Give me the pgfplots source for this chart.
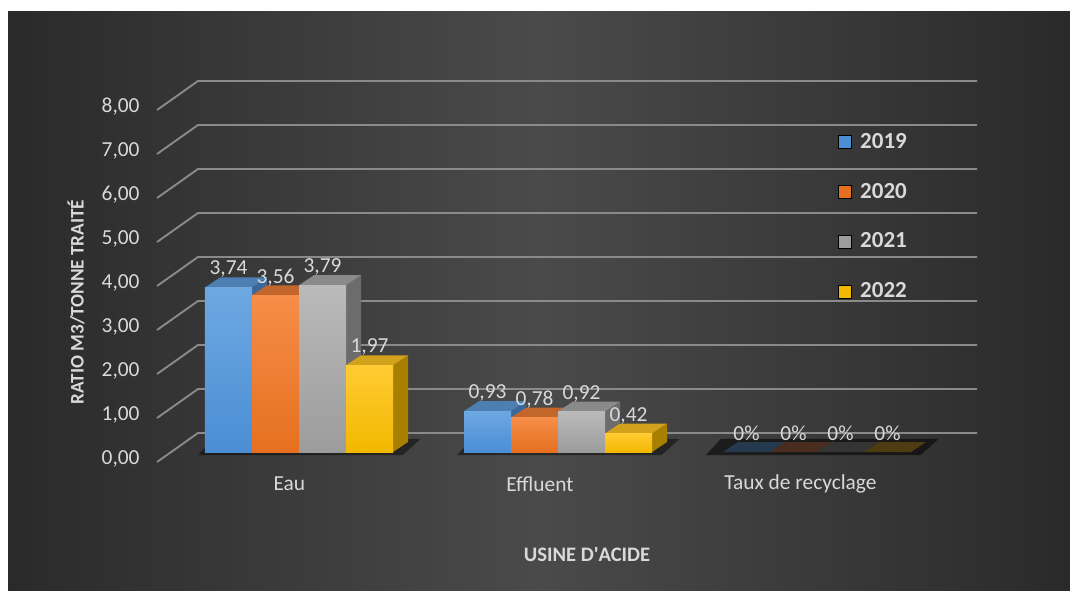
\documentclass[border=0pt]{standalone}
\usepackage{pgfplots}
\pgfplotsset{compat=1.18}
\usepackage{fontspec}
\setmainfont{Carlito}

\definecolor{bgedge}{HTML}{2A2A2A}
\definecolor{bgmid}{HTML}{4A4A4A}
\definecolor{gridc}{HTML}{8A8A8A}
\definecolor{lbl}{HTML}{D9D9D9}
% 2019 blue
\definecolor{bft}{HTML}{6EA8E2}\definecolor{bfb}{HTML}{4A8ED4}
\definecolor{btop}{HTML}{4D7FB3}\definecolor{bside}{HTML}{3A6898}
% 2020 orange
\definecolor{oft}{HTML}{F68D48}\definecolor{ofb}{HTML}{E6701F}
\definecolor{otop}{HTML}{C2662C}\definecolor{oside}{HTML}{A05222}
% 2021 gray
\definecolor{gft}{HTML}{BABABA}\definecolor{gfb}{HTML}{9C9C9C}
\definecolor{gtop}{HTML}{8A8A8A}\definecolor{gside}{HTML}{6C6C6C}
% 2022 yellow
\definecolor{yft}{HTML}{FFCB33}\definecolor{yfb}{HTML}{F2B800}
\definecolor{ytop}{HTML}{D3A21C}\definecolor{yside}{HTML}{A88000}
% zero slab
\definecolor{zb}{HTML}{25394F}\definecolor{zo}{HTML}{4B2D1F}
\definecolor{zg}{HTML}{343434}\definecolor{zy}{HTML}{4D3C12}

% 3D bar: #1 left x, #2 value, #3 front top col, #4 front bottom col, #5 top col, #6 side col
\newcommand\tdbar[6]{%
  \pgfmathsetmacro\xa{#1}\pgfmathsetmacro\xb{#1+0.18147}%
  \pgfmathsetmacro\xc{#1+0.05792}\pgfmathsetmacro\xd{#1+0.18147+0.05792}%
  \pgfmathsetmacro\ya{#2}\pgfmathsetmacro\yb{#2+0.2273}%
  \addplot[forget plot, draw=none, fill=#6] coordinates {(\xb,0) (\xd,0.2273) (\xd,\yb) (\xb,\ya)} -- cycle;
  \addplot[forget plot, draw=none, fill=#5] coordinates {(\xa,\ya) (\xb,\ya) (\xd,\yb) (\xc,\yb)} -- cycle;
  \addplot[forget plot, draw=none, top color=#3, bottom color=#4] coordinates {(\xa,0) (\xb,0) (\xb,\ya) (\xa,\ya)} -- cycle;
}
% flat (zero) bar: only the top face
\newcommand\tdflat[3]{%
  \pgfmathsetmacro\xa{#1}\pgfmathsetmacro\xb{#1+0.18147}%
  \pgfmathsetmacro\xc{#1+0.05792}\pgfmathsetmacro\xd{#1+0.18147+0.05792}%
  \pgfmathsetmacro\ya{#2}\pgfmathsetmacro\yb{#2+0.2273}%
  \addplot[forget plot, draw=none, fill=#3] coordinates {(\xa,\ya) (\xb,\ya) (\xd,\yb) (\xc,\yb)} -- cycle;
}

\begin{document}
\begin{tikzpicture}
\useasboundingbox (0,0) rectangle (535pt,295pt);
\fill[white] (0,0) rectangle (535pt,295pt);
\shade[left color=bgedge, right color=bgedge, middle color=bgmid] (4pt,0) rectangle (535pt,289pt);
\begin{axis}[
  at={(0,0)}, anchor=south west,
  scale only axis, width=535pt, height=295pt,
  xmin=-1.15444, xmax=2.97683, ymin=-3.13636, ymax=10.27273,
  hide axis, clip=false,
  legend style={at={(0.7776,0.7815)}, anchor=north west, draw=none, fill=none,
    font=\bfseries\fontsize{11.5}{12}\selectfont, text=lbl,
    row sep=15.85pt, column sep=4pt, nodes={inner sep=0pt}},
  legend image code/.code={\fill[#1] (0pt,-3.25pt) rectangle (6.5pt,3.25pt);},
  legend cell align=left,
]
% gridlines (back wall + oblique side)
\addplot[forget plot, gridc, line width=0.95pt] coordinates {(-0.548,-0.227) (-0.390,0.432) (2.618,0.432)};
\addplot[forget plot, gridc, line width=0.95pt] coordinates {(-0.548,0.773) (-0.390,1.432) (2.618,1.432)};
\addplot[forget plot, gridc, line width=0.95pt] coordinates {(-0.548,1.773) (-0.390,2.432) (2.618,2.432)};
\addplot[forget plot, gridc, line width=0.95pt] coordinates {(-0.548,2.773) (-0.390,3.432) (2.618,3.432)};
\addplot[forget plot, gridc, line width=0.95pt] coordinates {(-0.548,3.773) (-0.390,4.432) (2.618,4.432)};
\addplot[forget plot, gridc, line width=0.95pt] coordinates {(-0.548,4.773) (-0.390,5.432) (2.618,5.432)};
\addplot[forget plot, gridc, line width=0.95pt] coordinates {(-0.548,5.773) (-0.390,6.432) (2.618,6.432)};
\addplot[forget plot, gridc, line width=0.95pt] coordinates {(-0.548,6.773) (-0.390,7.432) (2.618,7.432)};
\addplot[forget plot, gridc, line width=0.95pt] coordinates {(-0.548,7.773) (-0.390,8.432) (2.618,8.432)};

% shadows on the floor
\addplot[forget plot, draw=none, fill=black, opacity=0.45] coordinates {(-0.39,-0.07) (0.40,-0.07) (0.47,0.30) (-0.33,0.30)} -- cycle;
\addplot[forget plot, draw=none, fill=black, opacity=0.45] coordinates {(0.61,-0.07) (1.40,-0.07) (1.47,0.30) (0.67,0.30)} -- cycle;
\addplot[forget plot, draw=none, fill=black, opacity=0.55] coordinates {(1.57,-0.07) (2.40,-0.07) (2.47,0.30) (1.63,0.30)} -- cycle;

% Eau
\tdbar{-0.36294}{3.74}{bft}{bfb}{btop}{bside}
\tdbar{-0.18147}{3.56}{oft}{ofb}{otop}{oside}
\tdbar{0}{3.79}{gft}{gfb}{gtop}{gside}
\tdbar{0.18147}{1.97}{yft}{yfb}{ytop}{yside}
% Effluent
\tdbar{0.63706}{0.93}{bft}{bfb}{btop}{bside}
\tdbar{0.81853}{0.78}{oft}{ofb}{otop}{oside}
\tdbar{1}{0.92}{gft}{gfb}{gtop}{gside}
\tdbar{1.18147}{0.42}{yft}{yfb}{ytop}{yside}
% Taux de recyclage (all zero)
\tdflat{1.63706}{0}{zb}
\tdflat{1.81853}{0}{zo}
\tdflat{2}{0}{zg}
\tdflat{2.18147}{0}{zy}

% legend
\addlegendimage{fill=bfb}\addlegendentry{2019}
\addlegendimage{fill=ofb}\addlegendentry{2020}
\addlegendimage{fill=gfb}\addlegendentry{2021}
\addlegendimage{fill=yfb}\addlegendentry{2022}

% data labels
\begin{scope}[every node/.style={font=\fontsize{10.7}{12}\selectfont, text=lbl, inner sep=0pt}]
\node at (axis cs:-0.27221,4.15) {3,74};
\node at (axis cs:-0.09074,3.97) {3,56};
\node at (axis cs:0.09074,4.20) {3,79};
\node at (axis cs:0.27221,2.38) {1,97};
\node at (axis cs:0.72779,1.34) {0,93};
\node at (axis cs:0.90926,1.19) {0,78};
\node at (axis cs:1.09074,1.33) {0,92};
\node at (axis cs:1.27221,0.83) {0,42};
\node at (axis cs:1.72779,0.43) {0\%};
\node at (axis cs:1.90926,0.43) {0\%};
\node at (axis cs:2.09074,0.43) {0\%};
\node at (axis cs:2.27221,0.43) {0\%};
% y tick labels
\node[anchor=east] at (axis cs:-0.614,-0.159) {0,00};
\node[anchor=east] at (axis cs:-0.614,0.841) {1,00};
\node[anchor=east] at (axis cs:-0.614,1.841) {2,00};
\node[anchor=east] at (axis cs:-0.614,2.841) {3,00};
\node[anchor=east] at (axis cs:-0.614,3.841) {4,00};
\node[anchor=east] at (axis cs:-0.614,4.841) {5,00};
\node[anchor=east] at (axis cs:-0.614,5.841) {6,00};
\node[anchor=east] at (axis cs:-0.614,6.841) {7,00};
\node[anchor=east] at (axis cs:-0.614,7.841) {8,00};
% category labels
\node at (axis cs:-0.037,-0.727) {Eau};
\node at (axis cs:0.9305,-0.727) {Effluent};
\node at (axis cs:1.936,-0.727) {Taux de recyclage};
\end{scope}
% axis titles
\node[font=\bfseries\fontsize{10.3}{12}\selectfont, text=lbl] at (axis cs:1.112,-2.341) {USINE D\textquotesingle ACIDE};
\node[font=\bfseries\fontsize{9.6}{12}\selectfont, text=lbl, rotate=90] at (axis cs:-0.861,3.409) {RATIO M3/TONNE TRAITÉ};
\end{axis}
\end{tikzpicture}
\end{document}
